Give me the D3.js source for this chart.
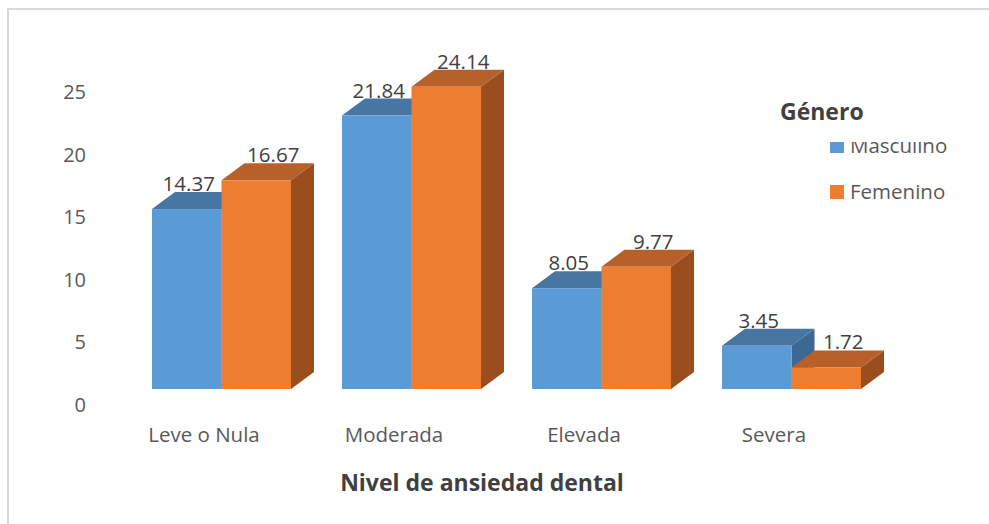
<!DOCTYPE html>
<html>
<head>
<meta charset="utf-8">
<script src="https://cdn.jsdelivr.net/npm/d3@7"></script>
<style>
  body { margin: 0; background: #fff; }
  svg { display: block; font-family: "Open Sans", sans-serif; }
</style>
</head>
<body>
<svg id="chart" width="989" height="524"></svg>
<script>
/* ================================
   DATA
================================ */

const categories = ["Leve o Nula", "Moderada", "Elevada", "Severa"];
const seriesNames = ["Masculino", "Femenino"];
const masculino = [14.37, 21.84, 8.05, 3.45];
const femenino = [16.67, 24.14, 9.77, 1.72];
const yTicks = [0, 5, 10, 15, 20, 25];

const colors = {
  Masculino: { front: "#5b9bd5", top: "#4776a3", side: "#3d6891" },
  Femenino:  { front: "#ed7d31", top: "#b7602a", side: "#9a4e1e" }
};

/* ================================
   CHART
================================ */

const svg = d3.select("#chart");

// chart frame
svg.append("rect")
  .attr("x", 8).attr("y", 9)
  .attr("width", 1000).attr("height", 540)
  .attr("fill", "none")
  .attr("stroke", "#d9d9d9")
  .attr("stroke-width", 2);

const y = d3.scaleLinear().domain([0, 25]).range([404.5, 91.5]);
const floorShift = 15.5;   // front face sits below the back wall floor
const dx = 23, dy = -17;   // 3D depth offset

const x = d3.scaleBand().domain(categories).range([126.5, 886.5]).paddingInner(0).paddingOuter(0);
const xs = d3.scaleBand().domain(seriesNames).range([25.5, x.bandwidth() - 25.5]);

// y tick labels
svg.append("g")
  .selectAll("text")
  .data(yTicks)
  .join("text")
  .attr("x", 86)
  .attr("y", d => y(d) + 7.5)
  .attr("text-anchor", "end")
  .style("font-size", "20px")
  .style("fill", "#595959")
  .text(d => d);

// bars
const rows = categories.map((c, i) => ({
  cat: c,
  vals: [
    { s: "Masculino", v: masculino[i] },
    { s: "Femenino", v: femenino[i] }
  ]
}));

const bars = svg.append("g");
rows.forEach(r => {
  r.vals.forEach(d => {
    const x0 = x(r.cat) + xs(d.s);
    const w = xs.bandwidth();
    const yb = y(0) - floorShift;
    const yt = y(d.v) - floorShift;
    const c = colors[d.s];
    const g = bars.append("g");

    g.append("polygon")
      .attr("points", [[x0 + w, yt], [x0 + w + dx, yt + dy], [x0 + w + dx, yb + dy], [x0 + w, yb]].join(" "))
      .attr("fill", c.side);

    g.append("polygon")
      .attr("points", [[x0, yt], [x0 + dx, yt + dy], [x0 + w + dx, yt + dy], [x0 + w, yt]].join(" "))
      .attr("fill", c.top);

    g.append("rect")
      .attr("x", x0).attr("y", yt)
      .attr("width", w).attr("height", yb - yt)
      .attr("fill", c.front);
  });
});

// value labels
rows.forEach(r => {
  r.vals.forEach(d => {
    const x0 = x(r.cat) + xs(d.s);
    const off = d.s === "Masculino" ? 2 : 17;
    svg.append("text")
      .attr("x", x0 + xs.bandwidth() / 2 + off)
      .attr("y", y(d.v) - floorShift + dy - 1)
      .attr("text-anchor", "middle")
      .style("font-size", "20.5px")
      .style("fill", "#404040")
      .text(d.v.toFixed(2));
  });
});

// category labels
svg.append("g")
  .selectAll("text")
  .data(categories)
  .join("text")
  .attr("x", d => x(d) + x.bandwidth() / 2 - 17.5)
  .attr("y", 442)
  .attr("text-anchor", "middle")
  .style("font-size", "20.5px")
  .style("fill", "#595959")
  .text(d => d);

// axis title
svg.append("text")
  .attr("x", 482)
  .attr("y", 491)
  .attr("text-anchor", "middle")
  .style("font-size", "23px")
  .style("font-weight", "700")
  .style("fill", "#404040")
  .text("Nivel de ansiedad dental");

/* ================================
   LEGEND
================================ */

svg.append("text")
  .attr("x", 780)
  .attr("y", 120)
  .style("font-size", "23px")
  .style("font-weight", "700")
  .style("fill", "#404040")
  .text("Género");

// the first legend entry is cut off at the top in the original
svg.append("clipPath")
  .attr("id", "legend-clip")
  .append("rect")
  .attr("x", 800).attr("y", 142)
  .attr("width", 189).attr("height", 100);

const legend = svg.append("g").attr("clip-path", "url(#legend-clip)");
const legendY = [153, 199];

seriesNames.forEach((s, i) => {
  legend.append("rect")
    .attr("x", 830)
    .attr("y", legendY[i] - 14)
    .attr("width", 14).attr("height", 14)
    .attr("fill", colors[s].front);

  legend.append("text")
    .attr("x", 850)
    .attr("y", legendY[i])
    .style("font-size", "20.5px")
    .style("fill", "#595959")
    .text(s);
});
</script>
</body>
</html>
